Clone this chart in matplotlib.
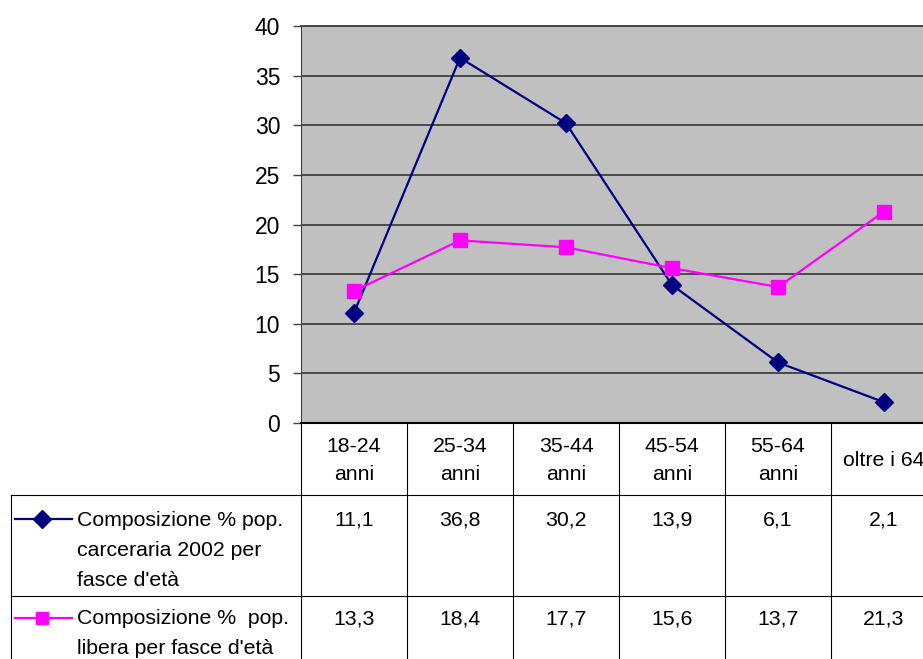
import matplotlib.pyplot as plt
from matplotlib.lines import Line2D
from matplotlib.transforms import blended_transform_factory

plt.rcParams['font.family'] = ['Liberation Sans', 'DejaVu Sans']

categories = ['18-24\nanni', '25-34\nanni', '35-44\nanni', '45-54\nanni', '55-64\nanni', 'oltre i 64']
carceraria = [11.1, 36.8, 30.2, 13.9, 6.1, 2.1]
libera = [13.3, 18.4, 17.7, 15.6, 13.7, 21.3]
series_labels = ["Composizione % pop.\ncarceraria 2002 per\nfasce d'età",
                 "Composizione %  pop.\nlibera per fasce d'età"]
series_colors = ['#000080', '#FF00FF']
series_markers = ['D', 's']

W, H = 923, 659
fx = lambda p: p / W
fy = lambda p: 1 - p / H

fig = plt.figure(figsize=(W / 100, H / 100), dpi=100)
ax = fig.add_axes([fx(301), fy(423), 636 / W, 397 / H])

xs = range(len(categories))
for vals, c, m in zip([carceraria, libera], series_colors, series_markers):
    ax.plot(xs, vals, color=c, lw=1.6, marker=m, ms=9.5, zorder=3)

ax.set_xlim(-0.5, len(categories) - 0.5)
ax.set_ylim(0, 40)
ax.set_facecolor('#C0C0C0')
ax.set_yticks(range(0, 41, 5))
ax.set_xticks([])
ax.yaxis.grid(True, color='#404040', lw=1.3)
ax.set_axisbelow(True)
ax.tick_params(axis='y', length=6, width=1, color='#404040', labelsize=16.5, pad=9)
ax.spines['top'].set_color('#404040')
ax.spines['top'].set_linewidth(1.3)
ax.spines['right'].set_visible(False)
ax.spines['left'].set_color('#404040')
ax.spines['bottom'].set_color('black')
ax.spines['bottom'].set_linewidth(1.5)

# table below the chart
blend = blended_transform_factory(ax.transData, fig.transFigure)
lc = dict(color='black', lw=0.8)
for i in range(len(categories) + 1):
    fig.add_artist(Line2D([i - 0.5, i - 0.5], [fy(423), fy(659)], transform=blend, **lc))
for yp in (495, 596):
    fig.add_artist(Line2D([fx(11), 1], [fy(yp), fy(yp)], transform=fig.transFigure, **lc))
fig.add_artist(Line2D([fx(11), fx(11)], [fy(495), fy(659)], transform=fig.transFigure, **lc))


def draw_lines(x, y0, text, pitch, transform, ha):
    for k, line in enumerate(text.split('\n')):
        fig.text(x, fy(y0 + k * pitch + 7.5), line, transform=transform, ha=ha,
                 va='baseline', fontsize=15.3)


for i, cat in enumerate(categories):
    n = len(cat.split('\n'))
    y0 = 459 - (n - 1) * 14
    draw_lines(i, y0, cat, 28, blend, 'center')

row_y = [518, 617]
for r, vals in enumerate([carceraria, libera]):
    for i, v in enumerate(vals):
        draw_lines(i, row_y[r], f'{v:.1f}'.replace('.', ','), 30, blend, 'center')
    draw_lines(fx(77), row_y[r], series_labels[r], 30, fig.transFigure, 'left')
    ly = fy(row_y[r] + 1)
    fig.add_artist(Line2D([fx(15), fx(72)], [ly, ly], transform=fig.transFigure,
                          color=series_colors[r], lw=1.6))
    fig.add_artist(Line2D([fx(42)], [ly], transform=fig.transFigure, color=series_colors[r],
                          marker=series_markers[r], ms=9, lw=0))

fig.savefig('out.png', dpi=100)
